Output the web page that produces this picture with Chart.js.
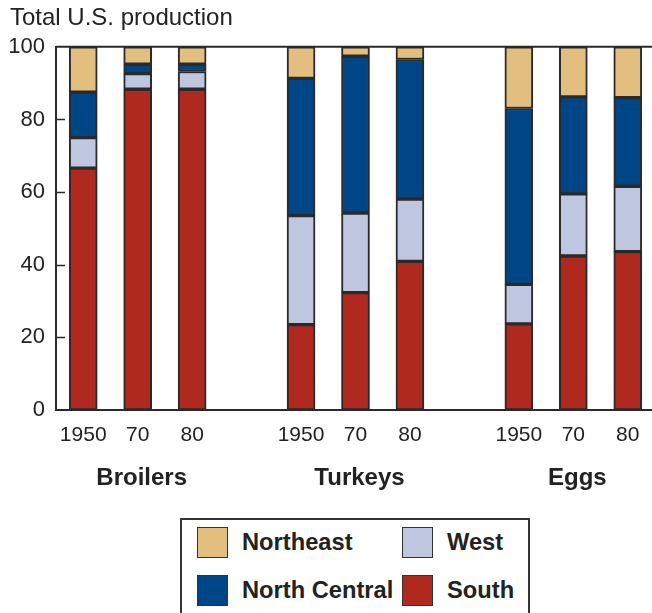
<!DOCTYPE html>
<html>
<head>
<meta charset="utf-8">
<script src="https://cdn.jsdelivr.net/npm/chart.js@4/dist/chart.umd.min.js"></script>
<style>
    body { margin: 0; overflow: hidden; background: #fff; }
    #wrap { position: relative; width: 655px; height: 613px; }
    #legend {
        position: absolute; left: 180px; top: 518px; width: 346px; height: 110px;
        border: 2px solid #333; background: #fff;
        font-family: "Liberation Sans", Arial, sans-serif; font-weight: bold; font-size: 23.7px; color: #222;
    }
    .item { position: absolute; display: flex; align-items: center; height: 32px; }
    .swatch { width: 29px; height: 29px; border: 1.5px solid #333; margin-right: 14px; }
</style>
</head>
<body>
<div id="wrap">
    <canvas id="chart" width="655" height="613"></canvas>
    <div id="legend"></div>
</div>
<script>
const categories = ['1950', '70', '80', '', '1950', '70', '80', '', '1950', '70', '80'];
const groups = ['Broilers', 'Turkeys', 'Eggs'];

// share of total U.S. production, percent
const south = [66.6, 88.3, 88.3, null, 23.5, 32.3, 40.9, null, 23.7, 42.4, 43.6];
const west = [8.4, 4.3, 4.9, null, 30.0, 21.9, 17.2, null, 10.9, 17.1, 18.0];
const northCentral = [12.5, 2.6, 2.0, null, 37.8, 43.2, 38.4, null, 48.4, 26.7, 24.4];
const northeast = [12.5, 4.8, 4.8, null, 8.7, 2.6, 3.5, null, 17.0, 13.8, 14.0];

const font = '"Liberation Sans", Arial, sans-serif';

// group name sits under the middle bar of each group
const groupLabels = categories.map(() => '');
groups.forEach((g, i) => { groupLabels[i * 4 + 1] = g; });

function series(label, data, color) {
    return {
        label: label,
        data: data,
        backgroundColor: color,
        borderColor: '#2a2a2a',
        borderWidth: 2,
        borderSkipped: false,
        barThickness: 28
    };
}

// inward tick marks on the y axis and the line along the top
const frame = {
    id: 'frame',
    afterDraw(chart) {
        const ctx = chart.ctx;
        const area = chart.chartArea;
        const y = chart.scales.y;
        ctx.save();
        ctx.strokeStyle = '#2a2a2a';
        ctx.lineWidth = 1.5;
        y.ticks.forEach(t => {
            if (t.value === 0 || t.value === 100) return;
            const py = Math.round(y.getPixelForValue(t.value)) + 0.5;
            ctx.beginPath();
            ctx.moveTo(area.left, py);
            ctx.lineTo(area.left + 9, py);
            ctx.stroke();
        });
        ctx.lineWidth = 2;
        ctx.beginPath();
        ctx.moveTo(area.left, y.getPixelForValue(100));
        ctx.lineTo(area.right, y.getPixelForValue(100));
        ctx.stroke();
        ctx.restore();
    }
};

const chart = new Chart(document.getElementById('chart').getContext('2d'), {
    type: 'bar',
    data: {
        labels: categories,
        datasets: [
            series('South', south, '#b0291e'),
            series('West', west, '#bfc6df'),
            series('North Central', northCentral, '#004687'),
            series('Northeast', northeast, '#e2be7f')
        ]
    },
    options: {
        responsive: false,
        animation: false,
        layout: { padding: { left: 10, right: 0, top: 0, bottom: 117 } },
        plugins: {
            legend: { display: false },
            tooltip: { enabled: false },
            title: {
                display: true,
                text: 'Total U.S. production',
                align: 'start',
                color: '#222',
                font: { family: font, size: 24, weight: 'normal' },
                padding: { top: 4, bottom: 14 }
            }
        },
        scales: {
            x: {
                stacked: true,
                weight: 0,
                grid: { display: false, drawTicks: false },
                border: { display: true, color: '#2a2a2a', width: 2 },
                ticks: { color: '#222', font: { family: font, size: 21 }, padding: 13, maxRotation: 0, autoSkip: false }
            },
            x2: {
                type: 'category',
                labels: groupLabels,
                position: 'bottom',
                weight: 1,
                grid: { display: false, drawTicks: false },
                border: { display: false },
                ticks: { color: '#222', font: { family: font, size: 24, weight: 'bold' }, padding: 3, labelOffset: 4, maxRotation: 0, autoSkip: false }
            },
            y: {
                stacked: true,
                min: 0,
                max: 100,
                grid: { display: false, drawTicks: false },
                border: { display: true, color: '#2a2a2a', width: 2 },
                ticks: { stepSize: 20, color: '#222', font: { family: font, size: 22 }, padding: 11 },
                afterFit: s => { s.width = 46; }
            }
        }
    },
    plugins: [frame]
});

// legend box, two columns, built from the chart's datasets
const legend = document.getElementById('legend');
const order = ['Northeast', 'West', 'North Central', 'South'];
order.forEach((name, i) => {
    const ds = chart.data.datasets.find(d => d.label === name);
    const item = document.createElement('div');
    item.className = 'item';
    item.style.left = (15 + (i % 2) * 205) + 'px';
    item.style.top = (6 + Math.floor(i / 2) * 48) + 'px';
    const sw = document.createElement('div');
    sw.className = 'swatch';
    sw.style.background = ds.backgroundColor;
    const txt = document.createElement('span');
    txt.textContent = name;
    item.appendChild(sw);
    item.appendChild(txt);
    legend.appendChild(item);
});
</script>
</body>
</html>
